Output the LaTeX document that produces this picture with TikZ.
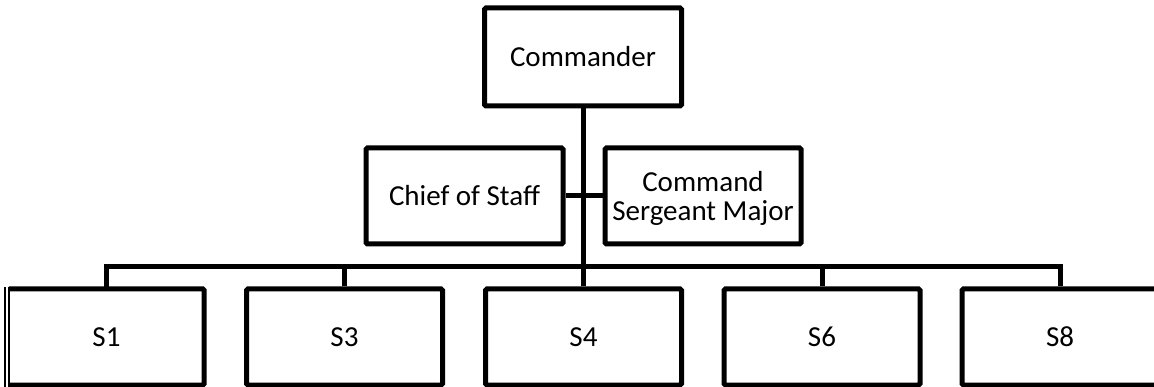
\documentclass[tikz,border=0pt]{standalone}
\usepackage{fontspec}
\setmainfont{Carlito}
\begin{document}
\begin{tikzpicture}[x=1pt,y=-1pt,
  every node/.style={font=\fontsize{29}{29}\selectfont, align=center, inner sep=0pt},
  unit/.style={draw, line width=5pt, rounded corners=1.5pt, minimum width=196pt, minimum height=96pt},
  staff/.style={unit, minimum height=96pt},
  link/.style={line width=5pt, line join=miter}]
  \useasboundingbox (0,0) rectangle (1154,387);

  % command group
  \node[unit, minimum width=197pt, minimum height=98pt] (cdr) at (583,57) {Commander};
  \node[staff, minimum width=197pt] (cos) at (464.5,196) {Chief of Staff};
  \node[staff, text depth=0pt] (csm) at (703,196) {Command\\Sergeant Major};

  % staff sections
  \node[minimum width=195pt, minimum height=96pt] (s1) at (106.5,337) {S1};
  \draw[line width=5pt, rounded corners=1.5pt]
    (s1.north west) -- (s1.north east) -- (s1.south east) -- (s1.south west);
  \draw[line width=1.5pt, double, double distance=2.5pt]
    ([xshift=-2pt]s1.north west) ++(0,-2) -- ([xshift=-2pt]s1.south west) -- ++(0,2);
  \node[unit] (s3) at (344.5,337) {S3};
  \node[unit] (s4) at (583.5,337) {S4};
  \node[unit] (s6) at (822,337) {S6};
  \node[unit] (s8) at (1060,337) {S8};

  \coordinate (busy) at (0,267);

  % connectors
  \draw[link] (cdr.south) -- (cdr.south |- s4.north);
  \draw[link] (cos.east) -- (csm.west);
  \draw[link] (s1.north) |- (s8.north |- busy) -- (s8.north);
  \draw[link] (s3.north) -- (s3.north |- busy);
  \draw[link] (s6.north) -- (s6.north |- busy);
\end{tikzpicture}
\end{document}
